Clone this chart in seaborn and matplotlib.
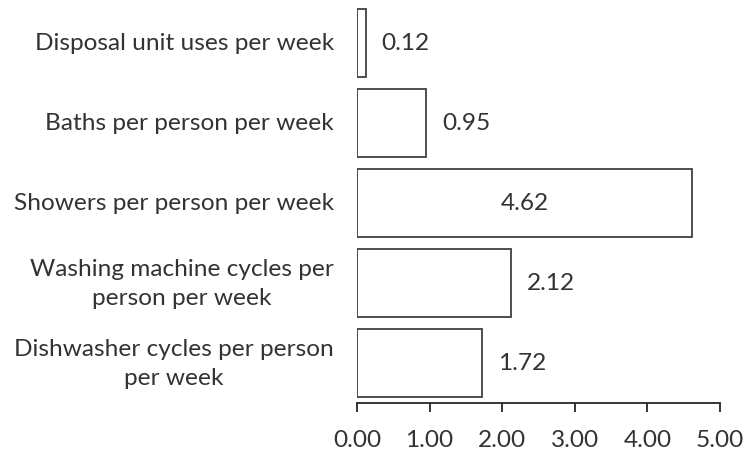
import matplotlib
matplotlib.use("Agg")
import matplotlib.pyplot as plt
import seaborn as sns
import pandas as pd
from matplotlib.transforms import blended_transform_factory

categories = [
    "Disposal unit uses per week",
    "Baths per person per week",
    "Showers per person per week",
    "Washing machine cycles per\nperson per week",
    "Dishwasher cycles per person\nper week",
]
values = [0.12, 0.95, 4.62, 2.12, 1.72]
xticks = [0, 1, 2, 3, 4, 5]
xticklabels = ["0.00", "1.00", "2.00", "3.00", "4.00", "5.00"]

sns.set_theme(style="white")
plt.rcParams["font.family"] = ["Lato", "DejaVu Sans"]

FS = 17.6
TXT = "#333333"
df = pd.DataFrame({"cat": categories, "val": values})

fig = plt.figure(figsize=(7.47, 4.56), dpi=100)
ax = fig.add_axes([357 / 747, 52 / 456, 363 / 747, 400 / 456])
sns.barplot(data=df, y="cat", x="val", orient="h", color="white",
            edgecolor="#404040", linewidth=1.3, width=0.85, ax=ax, saturation=1)

ax.set_xlim(0, 5)
ax.set_ylim(4.5, -0.5)
ax.set_xticks(xticks)
ax.set_xticklabels(xticklabels, fontsize=FS, color=TXT)
ax.set_xlabel("")
ax.set_ylabel("")
ax.tick_params(axis="x", direction="out", length=6.5, width=1.3, color="#262626", pad=12, bottom=True)
ax.tick_params(axis="y", length=0)
ax.set_yticklabels([""] * len(categories))

trans = blended_transform_factory(fig.transFigure, ax.transData)
for i, t in enumerate(categories):
    ax.text(334 / 747, i, t, transform=trans, ha="right", va="center",
            fontsize=FS, color=TXT, multialignment="center", linespacing=1.45)

for s in ["top", "right", "left"]:
    ax.spines[s].set_visible(False)
ax.spines["bottom"].set_color("#262626")
ax.spines["bottom"].set_linewidth(1.3)

for i, v in enumerate(values):
    if v > 4:
        ax.text(v / 2, i, f"{v:.2f}", ha="center", va="center", fontsize=FS, color=TXT)
    else:
        ax.text(v + 0.22, i, f"{v:.2f}", ha="left", va="center", fontsize=FS, color=TXT)

fig.savefig("out.png", dpi=100, facecolor="white")
